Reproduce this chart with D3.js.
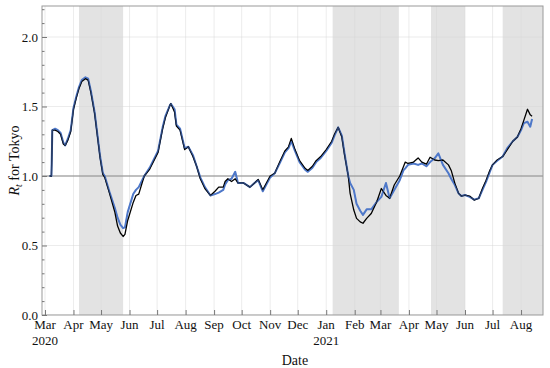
<!DOCTYPE html>
<html>
<head>
<meta charset="utf-8">
<script src="https://cdn.jsdelivr.net/npm/d3@7"></script>
<style>
  body { margin: 0; background: #fff; }
  svg text { font-family: "Liberation Serif", "Times New Roman", serif; fill: #111; }
</style>
</head>
<body>
<svg id="chart" width="550" height="368"></svg>
<script>
// daily Rt estimates (black and blue curves)
const dates = [
  "2020-03-06","2020-03-08","2020-03-09","2020-03-12","2020-03-15","2020-03-18","2020-03-21","2020-03-23",
  "2020-03-26","2020-03-29","2020-04-01","2020-04-04","2020-04-07","2020-04-10","2020-04-14","2020-04-17",
  "2020-04-20","2020-04-24","2020-04-30","2020-05-03","2020-05-05","2020-05-10","2020-05-16","2020-05-19",
  "2020-05-22","2020-05-25","2020-05-27","2020-05-30","2020-06-05","2020-06-08","2020-06-11","2020-06-17",
  "2020-06-23","2020-07-02","2020-07-07","2020-07-10","2020-07-15","2020-07-16","2020-07-20","2020-07-22",
  "2020-07-26","2020-07-31","2020-08-04","2020-08-09","2020-08-13","2020-08-17","2020-08-22","2020-08-28",
  "2020-09-02","2020-09-06","2020-09-11","2020-09-13","2020-09-16","2020-09-20","2020-09-24","2020-09-27",
  "2020-10-03","2020-10-10","2020-10-15","2020-10-19","2020-10-24","2020-11-01","2020-11-06","2020-11-12",
  "2020-11-17","2020-11-21","2020-11-24","2020-11-28","2020-12-03","2020-12-09","2020-12-12","2020-12-17",
  "2020-12-21","2020-12-26","2021-01-01","2021-01-07","2021-01-10","2021-01-14","2021-01-18","2021-01-21",
  "2021-01-25","2021-01-27","2021-01-31","2021-02-03","2021-02-07","2021-02-10","2021-02-14","2021-02-19",
  "2021-02-25","2021-03-02","2021-03-07","2021-03-11","2021-03-16","2021-03-22","2021-03-26","2021-03-28",
  "2021-03-31","2021-04-06","2021-04-11","2021-04-15","2021-04-20","2021-04-24","2021-04-29","2021-05-03",
  "2021-05-08","2021-05-14","2021-05-17","2021-05-21","2021-05-25","2021-05-28","2021-06-01","2021-06-06",
  "2021-06-11","2021-06-16","2021-06-20","2021-06-24","2021-06-28","2021-07-01","2021-07-06","2021-07-12",
  "2021-07-17","2021-07-23","2021-07-28","2021-08-01","2021-08-04","2021-08-08","2021-08-11","2021-08-13"
];
const rtBlack = [
  1.00,1.00,1.33,1.33,1.32,1.30,1.23,1.22,
  1.26,1.32,1.48,1.56,1.63,1.68,1.70,1.69,
  1.60,1.45,1.13,1.01,0.99,0.88,0.74,0.64,
  0.59,0.565,0.58,0.68,0.81,0.86,0.87,1.00,
  1.05,1.17,1.34,1.42,1.51,1.52,1.46,1.36,
  1.33,1.19,1.21,1.14,1.07,0.98,0.91,0.86,
  0.89,0.92,0.92,0.96,0.98,0.96,0.98,0.95,
  0.95,0.92,0.95,0.975,0.90,1.00,1.02,1.11,
  1.18,1.21,1.27,1.19,1.11,1.055,1.04,1.07,
  1.11,1.14,1.19,1.25,1.30,1.35,1.28,1.15,
  1.00,0.875,0.755,0.695,0.67,0.66,0.695,0.73,
  0.815,0.91,0.86,0.84,0.935,1.00,1.067,1.10,
  1.09,1.10,1.13,1.10,1.085,1.135,1.115,1.11,
  1.115,1.08,1.04,0.947,0.875,0.856,0.863,0.856,
  0.827,0.84,0.91,0.97,1.04,1.08,1.115,1.14,
  1.19,1.25,1.28,1.34,1.40,1.48,1.44,1.43
];
const rtBlue = [
  1.00,1.00,1.33,1.34,1.33,1.31,1.24,1.22,
  1.27,1.33,1.49,1.57,1.64,1.69,1.71,1.70,
  1.61,1.46,1.14,1.02,1.00,0.89,0.77,0.70,
  0.65,0.625,0.63,0.74,0.87,0.90,0.92,1.00,
  1.06,1.18,1.35,1.43,1.51,1.52,1.48,1.37,
  1.34,1.20,1.21,1.15,1.07,0.99,0.92,0.86,
  0.87,0.88,0.90,0.94,0.97,0.98,1.03,0.95,
  0.95,0.92,0.95,0.97,0.89,0.99,1.02,1.10,
  1.17,1.20,1.25,1.18,1.10,1.045,1.03,1.06,
  1.10,1.13,1.18,1.24,1.29,1.35,1.29,1.16,
  1.00,0.95,0.90,0.80,0.75,0.72,0.76,0.76,
  0.815,0.85,0.95,0.84,0.90,0.97,1.04,1.055,
  1.08,1.09,1.08,1.09,1.07,1.10,1.127,1.163,
  1.08,1.02,0.98,0.935,0.875,0.856,0.863,0.85,
  0.83,0.84,0.90,0.96,1.03,1.08,1.11,1.14,
  1.20,1.25,1.28,1.33,1.38,1.39,1.355,1.41
];
// states of emergency (shaded)
const emergencyStart = ["2020-04-07", "2021-01-08", "2021-04-25", "2021-07-12"];
const emergencyEnd   = ["2020-05-25", "2021-03-21", "2021-06-01", "2021-08-31"];
const yTicks = [0, 0.5, 1.0, 1.5, 2.0];
const monthFmt = ["Jan","Feb","Mar","Apr","May","Jun","Jul","Aug","Sep","Oct","Nov","Dec"];

const parse = d3.utcParse("%Y-%m-%d");
const width = 550, height = 368;
const margin = {top: 6, right: 7, bottom: 53, left: 42};
const innerW = width - margin.left - margin.right;
const innerH = height - margin.top - margin.bottom;

const svg = d3.select("#chart");
const g = svg.append("g").attr("transform", `translate(${margin.left},${margin.top})`);

const x = d3.scaleUtc()
    .domain([Date.UTC(2020, 1, 26, 18), Date.UTC(2021, 7, 24, 21)])
    .range([0, innerW]);
const y = d3.scaleLinear().domain([0, 2.223]).range([innerH, 0]);

// clip
g.append("clipPath").attr("id", "clip")
  .append("rect").attr("width", innerW).attr("height", innerH);
const plot = g.append("g").attr("clip-path", "url(#clip)");

// shaded periods
plot.selectAll("rect.shade")
  .data(emergencyStart.map((s, i) => [parse(s), parse(emergencyEnd[i])]))
  .join("rect")
  .attr("class", "shade")
  .attr("x", d => x(d[0]))
  .attr("width", d => x(d[1]) - x(d[0]))
  .attr("y", 0)
  .attr("height", innerH)
  .attr("fill", "#e3e3e3");

// grid
const months = x.ticks(d3.utcMonth.every(1));
plot.selectAll("line.vgrid")
  .data(months)
  .join("line")
  .attr("x1", d => x(d)).attr("x2", d => x(d))
  .attr("y1", 0).attr("y2", innerH)
  .attr("stroke", "#d8d8d8").attr("stroke-opacity", 0.6).attr("stroke-width", 0.8);
plot.selectAll("line.hgrid")
  .data(yTicks)
  .join("line")
  .attr("x1", 0).attr("x2", innerW)
  .attr("y1", d => y(d)).attr("y2", d => y(d))
  .attr("stroke", "#d8d8d8").attr("stroke-opacity", 0.6).attr("stroke-width", 0.8);

// reference line Rt = 1
plot.append("line")
  .attr("x1", 0).attr("x2", innerW)
  .attr("y1", y(1)).attr("y2", y(1))
  .attr("stroke", "#8a8a8a").attr("stroke-width", 1.2);

const line = d3.line().x(d => x(d[0])).y(d => y(d[1]));
const blackData = dates.map((d, i) => [parse(d), rtBlack[i]]);
const blueData = dates.map((d, i) => [parse(d), rtBlue[i]]);

plot.append("path").datum(blueData)
  .attr("d", line).attr("fill", "none")
  .attr("stroke", "#4f78c9").attr("stroke-width", 2).attr("stroke-linejoin", "round");
plot.append("path").datum(blackData)
  .attr("d", line).attr("fill", "none")
  .attr("stroke", "#000").attr("stroke-width", 1.3).attr("stroke-linejoin", "round");
plot.append("path").datum(blueData)
  .attr("d", line).attr("fill", "none")
  .attr("stroke", "#4f78c9").attr("stroke-width", 1).attr("stroke-opacity", 0.6)
  .attr("stroke-linejoin", "round");

// frame
g.append("rect")
  .attr("width", innerW).attr("height", innerH)
  .attr("fill", "none").attr("stroke", "#9a9a9a").attr("stroke-width", 1);

// x axis (ticks inward)
const xAxis = g.append("g")
  .attr("transform", `translate(0,${innerH})`)
  .call(d3.axisBottom(x).tickValues(months).tickSize(-5).tickFormat(""));
xAxis.select(".domain").remove();
xAxis.selectAll(".tick line").attr("stroke", "#777");

const xLabels = g.append("g").attr("transform", `translate(0,${innerH})`);
xLabels.selectAll("text.month")
  .data(months)
  .join("text")
  .attr("x", d => x(d)).attr("y", 14)
  .attr("text-anchor", "middle")
  .attr("font-size", 13)
  .text(d => monthFmt[d.getUTCMonth()]);
xLabels.selectAll("text.year")
  .data(months.filter((d, i) => i === 0 || d.getUTCMonth() === 0))
  .join("text")
  .attr("x", d => x(d)).attr("y", 30)
  .attr("text-anchor", "middle")
  .attr("font-size", 13)
  .text(d => d.getUTCFullYear());

// y axis
const yAxis = g.append("g")
  .call(d3.axisLeft(y).tickValues(yTicks).tickSize(-5).tickPadding(4).tickFormat(d3.format(".1f")));
yAxis.select(".domain").remove();
yAxis.selectAll(".tick line").attr("stroke", "#777");
yAxis.selectAll(".tick text").attr("font-size", 13).attr("fill", "#111")
  .attr("font-family", "Liberation Serif, serif");
const yMinor = g.append("g")
  .call(d3.axisLeft(y).tickValues(d3.range(0, 2.21, 0.1).filter(v => Math.abs(v * 2 - Math.round(v * 2)) > 1e-6))
    .tickSize(-2.5).tickFormat(""));
yMinor.select(".domain").remove();
yMinor.selectAll(".tick line").attr("stroke", "#777");

// axis titles
svg.append("text")
  .attr("x", margin.left + x(parse("2020-11-28")))
  .attr("y", 365)
  .attr("text-anchor", "middle")
  .attr("font-size", 14)
  .text("Date");

const yTitle = svg.append("text")
  .attr("transform", `translate(19,${margin.top + innerH / 2}) rotate(-90)`)
  .attr("text-anchor", "middle")
  .attr("font-size", 14);
yTitle.append("tspan").attr("font-style", "italic").text("R");
yTitle.append("tspan").attr("font-style", "italic").attr("font-size", 10).attr("dy", 3).text("t");
yTitle.append("tspan").attr("dy", -3).text(" for Tokyo");
</script>
</body>
</html>
